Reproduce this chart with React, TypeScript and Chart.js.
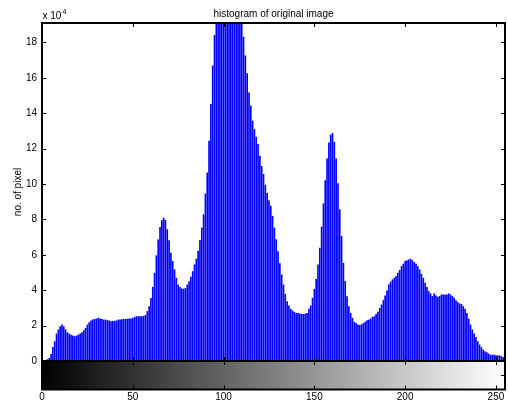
import React, { useEffect, useRef } from "react";
import { Chart, registerables } from "chart.js";

Chart.register(...registerables);

// Intensity levels (bins) of the 8-bit image
const intensityLevels: number[] = Array.from({ length: 256 }, (_, i) => i);

// Pixel counts per bin, in units of 10^4
const pixelCounts1e4: number[] = [
  0, 0, 0.02, 0.08, 0.15, 0.38, 0.77, 1.1, 1.53, 1.76,
  1.94, 2.04, 1.94, 1.76, 1.6, 1.53, 1.47, 1.42, 1.38, 1.42,
  1.47, 1.53, 1.6, 1.72, 1.85, 2.04, 2.17, 2.27, 2.32, 2.36,
  2.38, 2.42, 2.38, 2.36, 2.32, 2.32, 2.29, 2.27, 2.23, 2.25,
  2.25, 2.27, 2.32, 2.32, 2.34, 2.36, 2.36, 2.37, 2.38, 2.38,
  2.42, 2.47, 2.51, 2.51, 2.51, 2.51, 2.53, 2.58, 2.8, 3.07,
  3.54, 4.17, 4.96, 5.95, 6.85, 7.55, 7.93, 8.08, 7.95, 7.42,
  6.8, 6.1, 5.63, 5.16, 4.68, 4.3, 4.17, 4.08, 4.06, 4.11,
  4.3, 4.49, 4.74, 5.06, 5.44, 5.76, 6.2, 6.82, 7.52, 8.27,
  9.44, 10.63, 12.43, 14.5, 16.68, 18.4, 19.6, 20.5, 21.3, 21.9,
  22.3, 22.6, 22.7, 22.6, 22.4, 22.0, 21.5, 20.9, 20.3, 19.8,
  19.4, 18.3, 17.24, 16.24, 15.16, 14.41, 13.56, 13.09, 12.65, 12.24,
  11.58, 11.0, 10.55, 9.94, 9.47, 9.07, 8.75, 8.18, 7.52, 6.86,
  6.19, 5.5, 4.87, 4.3, 3.78, 3.36, 3.12, 2.93, 2.83, 2.76,
  2.7, 2.7, 2.66, 2.64, 2.64, 2.66, 2.7, 2.93, 3.12, 3.55,
  4.06, 4.62, 5.44, 6.38, 7.57, 8.89, 10.2, 11.43, 12.33, 12.77,
  12.86, 12.37, 11.43, 10.03, 8.55, 7.05, 5.53, 4.5, 3.64, 3.08,
  2.7, 2.42, 2.19, 2.13, 2.04, 2.02, 2.06, 2.12, 2.2, 2.29,
  2.32, 2.38, 2.47, 2.51, 2.64, 2.76, 2.98, 3.17, 3.42, 3.68,
  3.97, 4.31, 4.46, 4.59, 4.68, 4.78, 4.97, 5.12, 5.34, 5.48,
  5.63, 5.67, 5.72, 5.76, 5.68, 5.57, 5.48, 5.34, 5.15, 4.91,
  4.68, 4.4, 4.17, 3.93, 3.8, 3.65, 3.8, 3.68, 3.61, 3.65,
  3.74, 3.74, 3.74, 3.74, 3.8, 3.74, 3.65, 3.55, 3.42, 3.31,
  3.23, 3.21, 3.08, 2.93, 2.7, 2.38, 2.04, 1.76, 1.53, 1.34,
  1.1, 0.91, 0.76, 0.62, 0.53, 0.47, 0.4, 0.34, 0.34, 0.34,
  0.3, 0.3, 0.3, 0.25, 0.2, 0.2,
];

const xTickValues: number[] = [0, 50, 100, 150, 200, 250];
const yTickValues: number[] = [0, 2, 4, 6, 8, 10, 12, 14, 16, 18];

const titleText = "histogram of original image";
const yAxisTitle = "no. of pixel";
const multiplierBase = "x 10";
const multiplierExp = "4";

const X_MIN = 0;
const X_MAX = 255;
const Y_MIN = 0;
const Y_MAX = 19.1;

const FONT = "'Liberation Sans', Arial, Helvetica, sans-serif";

const decorPlugin = {
  id: "matlabDecor",
  afterDatasetsDraw(chart: any) {
    const { ctx, chartArea } = chart;
    const xs = chart.scales.x;
    const ys = chart.scales.y;
    const { left, right, top, bottom } = chartArea;
    ctx.save();
    ctx.strokeStyle = "#000";
    ctx.lineWidth = 1;
    const tl = 4;
    ctx.beginPath();
    for (const v of yTickValues) {
      const y = Math.round(ys.getPixelForValue(v)) + 0.5;
      ctx.moveTo(left, y);
      ctx.lineTo(left + tl, y);
      ctx.moveTo(right, y);
      ctx.lineTo(right - tl, y);
    }
    for (const v of xTickValues) {
      const x = Math.round(xs.getPixelForValue(v)) + 0.5;
      ctx.moveTo(x, top);
      ctx.lineTo(x, top + tl);
      ctx.moveTo(x, bottom);
      ctx.lineTo(x, bottom - tl);
    }
    ctx.stroke();
    ctx.lineWidth = 2;
    ctx.strokeRect(left, top, right - left, bottom - top);
    ctx.restore();
  },
  afterDraw(chart: any) {
    const { ctx, chartArea } = chart;
    const xs = chart.scales.x;
    const { left, right, top, bottom } = chartArea;
    ctx.save();
    // colour bar (grey ramp) under the axes
    const cbTop = bottom;
    const cbBottom = bottom + 28.5;
    const x0 = xs.getPixelForValue(X_MIN);
    const x1 = xs.getPixelForValue(X_MAX);
    const grad = ctx.createLinearGradient(x0, 0, x1, 0);
    grad.addColorStop(0, "#000000");
    grad.addColorStop(1, "#ffffff");
    ctx.fillStyle = grad;
    ctx.fillRect(x0, cbTop, x1 - x0, cbBottom - cbTop);
    ctx.strokeStyle = "#000";
    ctx.lineWidth = 1;
    ctx.beginPath();
    for (const v of xTickValues) {
      const x = Math.round(xs.getPixelForValue(v)) + 0.5;
      ctx.moveTo(x, cbBottom);
      ctx.lineTo(x, cbBottom - 4);
      ctx.moveTo(x, cbTop);
      ctx.lineTo(x, cbTop + 4);
    }
    const ym = Math.round((cbTop + cbBottom) / 2) + 0.5;
    ctx.moveTo(left, ym);
    ctx.lineTo(left + 4, ym);
    ctx.moveTo(right, ym);
    ctx.lineTo(right - 4, ym);
    ctx.stroke();
    ctx.lineWidth = 2;
    ctx.strokeRect(left, cbTop, right - left, cbBottom - cbTop);
    ctx.strokeRect(left, top, right - left, bottom - top);

    // title
    ctx.fillStyle = "#000";
    ctx.font = `10px ${FONT}`;
    ctx.textAlign = "center";
    ctx.textBaseline = "alphabetic";
    ctx.fillText(titleText, (left + right) / 2, 16.5);
    // exponent multiplier
    ctx.textAlign = "left";
    ctx.fillText(multiplierBase, left + 0.5, 19);
    const w = ctx.measureText(multiplierBase).width;
    ctx.font = `7px ${FONT}`;
    ctx.fillText(multiplierExp, left + 0.5 + w + 1, 14);
    ctx.restore();
  },
};

export default function App() {
  const canvasRef = useRef<HTMLCanvasElement | null>(null);

  useEffect(() => {
    if (!canvasRef.current) return;
    const chart = new Chart(canvasRef.current, {
      type: "bar",
      data: {
        datasets: [
          {
            label: "counts",
            data: intensityLevels.map((x, i) => ({ x, y: pixelCounts1e4[i] })),
            backgroundColor: "#0000ff",
            borderWidth: 0,
            barThickness: 1,
          },
        ],
      },
      options: {
        animation: false,
        responsive: false,
        maintainAspectRatio: false,
        devicePixelRatio: 1,
        layout: { padding: { top: 23, right: 3, left: 0, bottom: 0 } },
        plugins: {
          legend: { display: false },
          tooltip: { enabled: false },
          title: { display: false },
        },
        scales: {
          x: {
            type: "linear",
            min: X_MIN,
            max: X_MAX,
            offset: false,
            grid: { display: false, drawTicks: false },
            border: { display: false },
            afterBuildTicks: (scale: any) => {
              scale.ticks = xTickValues.map((v) => ({ value: v }));
            },
            afterFit: (scale: any) => {
              scale.height = 43;
              scale.paddingLeft = 0;
              scale.paddingRight = 0;
            },
            ticks: {
              padding: 30,
              color: "#000",
              font: { family: FONT, size: 10 },
              maxRotation: 0,
              autoSkip: false,
            },
          },
          y: {
            type: "linear",
            min: Y_MIN,
            max: Y_MAX,
            grid: { display: false, drawTicks: false },
            border: { display: false },
            afterBuildTicks: (scale: any) => {
              scale.ticks = yTickValues.map((v) => ({ value: v }));
            },
            afterFit: (scale: any) => {
              scale.width = 42;
            },
            ticks: {
              padding: 5,
              color: "#000",
              font: { family: FONT, size: 10 },
              autoSkip: false,
            },
            title: {
              display: true,
              text: yAxisTitle,
              color: "#000",
              font: { family: FONT, size: 10 },
              padding: { top: 12, bottom: 0 },
            },
          },
        },
      },
      plugins: [decorPlugin],
    });
    return () => chart.destroy();
  }, []);

  return (
    <div style={{ position: "absolute", left: 0, top: 0, width: 508, height: 404, background: "#fff" }}>
      <canvas ref={canvasRef} width={508} height={404} />
    </div>
  );
}
